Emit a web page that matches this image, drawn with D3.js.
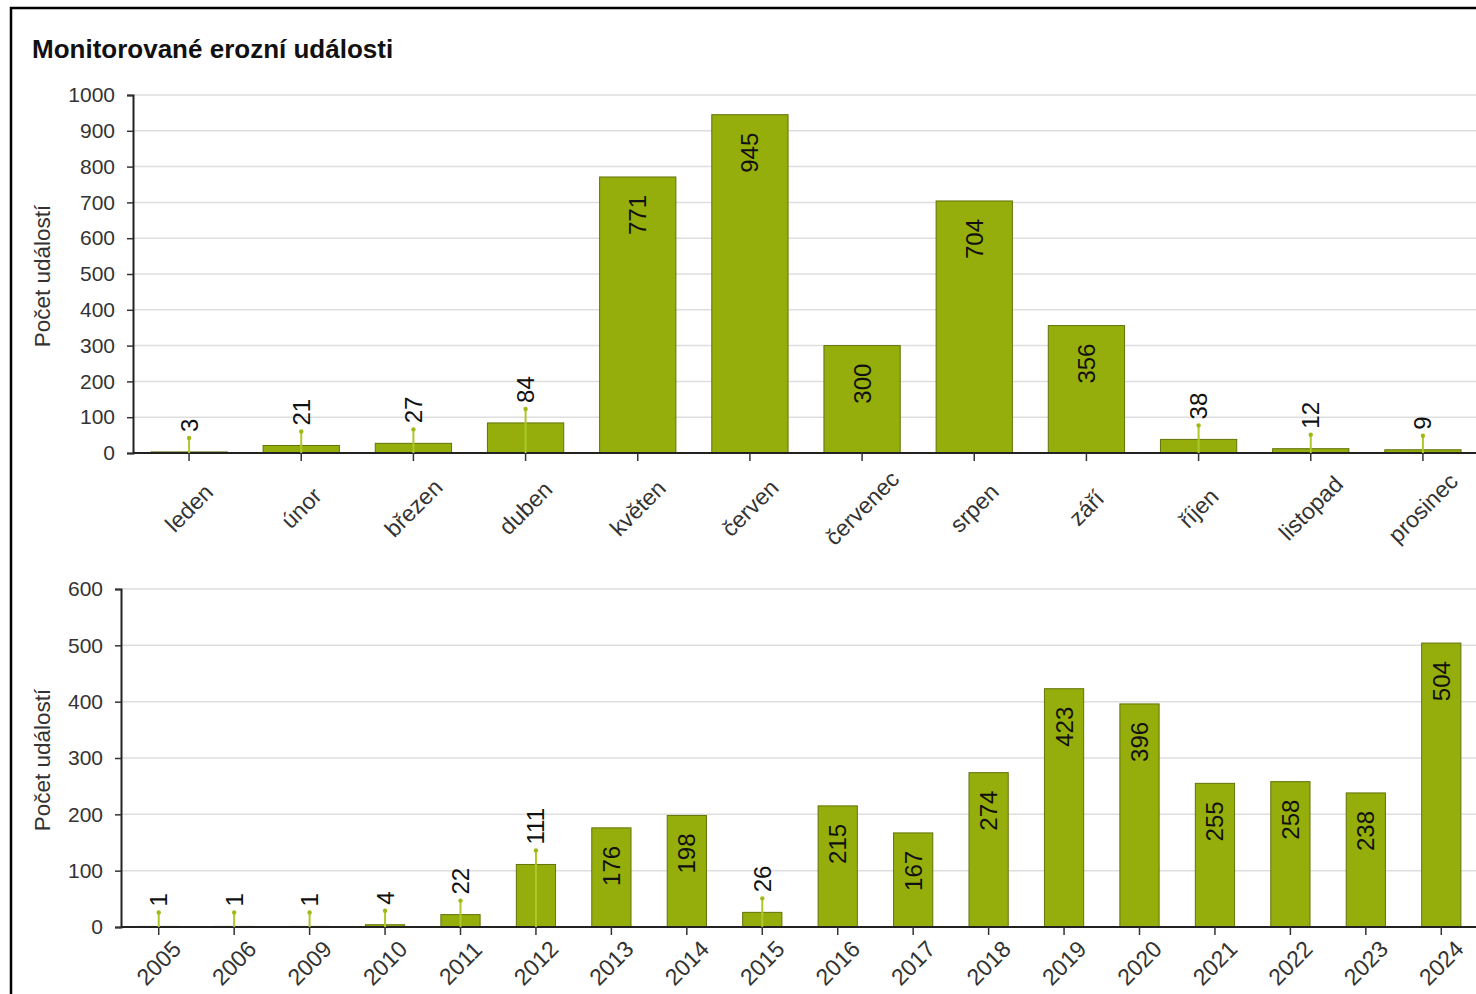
<!DOCTYPE html>
<html>
<head>
<meta charset="utf-8">
<script src="https://cdn.jsdelivr.net/npm/d3@7"></script>
<style>
  body { margin: 0; background: #fff; }
  text { font-family: "Liberation Sans", Arial, sans-serif; }
</style>
</head>
<body>
<div id="chart"></div>
<script>
// data
const months = ["leden", "únor", "březen", "duben", "květen", "červen", "červenec", "srpen", "září", "říjen", "listopad", "prosinec"];
const monthValues = [3, 21, 27, 84, 771, 945, 300, 704, 356, 38, 12, 9];
const years = ["2005", "2006", "2009", "2010", "2011", "2012", "2013", "2014", "2015", "2016", "2017", "2018", "2019", "2020", "2021", "2022", "2023", "2024"];
const yearValues = [1, 1, 1, 4, 22, 111, 176, 198, 26, 215, 167, 274, 423, 396, 255, 258, 238, 504];
const monthTicks = [0, 100, 200, 300, 400, 500, 600, 700, 800, 900, 1000];
const yearTicks = [0, 100, 200, 300, 400, 500, 600];

const W = 1476, H = 994;
const barFill = "#95ae0b", barStroke = "#637209", leader = "#abc92a";

const svg = d3.select("#chart").append("svg")
  .attr("width", W)
  .attr("height", H);

// outer frame
svg.append("path")
  .attr("d", "M11,1000V8H1480")
  .attr("fill", "none")
  .attr("stroke", "#000")
  .attr("stroke-width", 2.5);

svg.append("text")
  .attr("x", 32)
  .attr("y", 58)
  .attr("font-size", 26)
  .attr("font-weight", "bold")
  .attr("fill", "#111")
  .text("Monitorované erozní události");

function drawPanel(cfg) {
  const { cats, vals, ticks, left, right, top, bottom, pad, labelY, axisTitleY } = cfg;

  const x = d3.scaleBand()
    .domain(cats)
    .range([left, right])
    .paddingInner(pad)
    .paddingOuter(pad / 2);

  const y = d3.scaleLinear()
    .domain([0, d3.max(ticks)])
    .range([bottom, top]);

  const g = svg.append("g");

  // grid
  g.selectAll(".grid").data(ticks.slice(1)).enter()
    .append("line")
    .attr("x1", left).attr("x2", W)
    .attr("y1", d => y(d)).attr("y2", d => y(d))
    .attr("stroke", "#dedede")
    .attr("stroke-width", 1.5);

  // y axis
  const yAxis = g.append("g")
    .attr("transform", "translate(" + left + ",0)")
    .call(d3.axisLeft(y).tickValues(ticks).tickFormat(d3.format("d")).tickSize(6).tickPadding(12));
  yAxis.select(".domain").attr("stroke", "#222").attr("stroke-width", 2);
  yAxis.selectAll(".tick line").attr("stroke", "#333").attr("stroke-width", 1.5);
  yAxis.selectAll(".tick text")
    .attr("font-size", 21)
    .attr("fill", "#333")
    .attr("font-family", "Liberation Sans, Arial, sans-serif");

  // bars
  g.selectAll(".bar").data(vals).enter()
    .append("rect")
    .attr("x", (d, i) => x(cats[i]))
    .attr("y", d => y(d))
    .attr("width", x.bandwidth())
    .attr("height", d => bottom - y(d))
    .attr("fill", barFill)
    .attr("stroke", barStroke)
    .attr("stroke-width", 1);

  // x axis
  const xAxis = g.append("g")
    .attr("transform", "translate(0," + bottom + ")")
    .call(d3.axisBottom(x).tickSize(8).tickSizeOuter(0));
  xAxis.select(".domain").attr("stroke", "#222").attr("stroke-width", 2)
    .attr("d", "M" + left + ",0H" + W);
  xAxis.selectAll(".tick line").attr("stroke", "#333").attr("stroke-width", 1.5);
  xAxis.selectAll(".tick text").remove();

  g.selectAll(".xlab").data(cats).enter()
    .append("text")
    .attr("transform", d => "translate(" + (x(d) + x.bandwidth() / 2) + "," + labelY + ") rotate(-45)")
    .attr("text-anchor", "middle")
    .attr("dominant-baseline", "central")
    .attr("font-size", 23)
    .attr("fill", "#333")
    .text(d => d);

  // value labels
  vals.forEach((v, i) => {
    const cx = x(cats[i]) + x.bandwidth() / 2;
    const h = bottom - y(v);
    if (h > 80) {
      g.append("text")
        .attr("transform", "translate(" + cx + "," + (y(v) + 18) + ") rotate(-90)")
        .attr("text-anchor", "end")
        .attr("dominant-baseline", "central")
        .attr("font-size", 24)
        .attr("fill", "#111")
        .text(v);
    } else {
      const tip = y(v) - 14;
      g.append("line")
        .attr("x1", cx).attr("x2", cx)
        .attr("y1", bottom).attr("y2", tip)
        .attr("stroke", leader)
        .attr("stroke-width", 2);
      g.append("circle")
        .attr("cx", cx).attr("cy", tip)
        .attr("r", 2.2)
        .attr("fill", "#9dbb14");
      g.append("text")
        .attr("transform", "translate(" + cx + "," + (tip - 6) + ") rotate(-90)")
        .attr("text-anchor", "start")
        .attr("dominant-baseline", "central")
        .attr("font-size", 24)
        .attr("fill", "#111")
        .text(v);
    }
  });

  // axis title
  g.append("text")
    .attr("transform", "translate(42," + axisTitleY + ") rotate(-90)")
    .attr("text-anchor", "middle")
    .attr("dominant-baseline", "central")
    .attr("font-size", 22.5)
    .attr("fill", "#333")
    .text("Počet událostí");
}

drawPanel({
  cats: months, vals: monthValues, ticks: monthTicks,
  left: 133, right: 1479, top: 95, bottom: 453,
  pad: 0.32, labelY: 508, axisTitleY: 276
});

drawPanel({
  cats: years, vals: yearValues, ticks: yearTicks,
  left: 121, right: 1479, top: 589, bottom: 927,
  pad: 0.48, labelY: 963, axisTitleY: 760
});
</script>
</body>
</html>
